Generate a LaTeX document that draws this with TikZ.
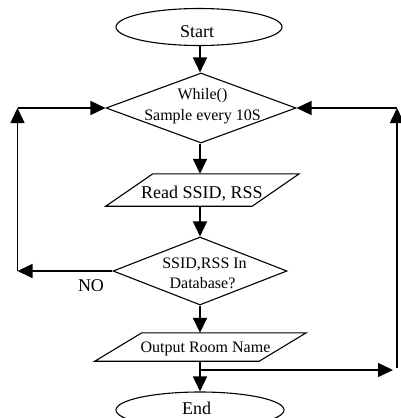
\documentclass[tikz,border=0pt]{standalone}
\usepackage{fontspec}
\setmainfont{Liberation Serif}
\usetikzlibrary{shapes.geometric,arrows.meta,calc}
\begin{document}
\begin{tikzpicture}[x=1pt,y=-1pt,
  outline/.style={draw=black,line width=1.1pt},
  termbox/.style={outline,ellipse,inner sep=0pt,minimum width=166pt,minimum height=37pt},
  decbox/.style={outline,diamond,inner sep=0pt},
  iobox/.style={inner sep=0pt},
  big/.style={anchor=base,inner sep=0pt,font=\fontsize{18}{22}\selectfont},
  small/.style={anchor=base,inner sep=0pt,font=\fontsize{16}{22}\selectfont},
  flow/.style={line width=1.6pt,-{Triangle[length=15pt,width=14pt]}}]
\useasboundingbox (0,0) rectangle (400,418);
% shapes
\node[termbox] (start) at (199,27) {};
\node[decbox,minimum width=190pt,minimum height=70pt] (d1) at (201,108) {};
\node[iobox,minimum width=146pt,minimum height=32pt] (p1) at (202.5,190) {};
\draw[outline] ($(p1.north west)+(23.5,0)$) -- ($(p1.north east)+(23.5,0)$)
  -- ($(p1.south east)+(-23.5,0)$) -- ($(p1.south west)+(-23.5,0)$) -- cycle;
\node[decbox,minimum width=174pt,minimum height=68pt] (d2) at (200,271) {};
\node[iobox,minimum width=164pt,minimum height=28pt] (p2) at (200.5,347) {};
\draw[outline] ($(p2.north west)+(23.5,0)$) -- ($(p2.north east)+(23.5,0)$)
  -- ($(p2.south east)+(-23.5,0)$) -- ($(p2.south west)+(-23.5,0)$) -- cycle;
\node[termbox,minimum width=168pt,minimum height=36pt] (end) at (200,410) {};
% texts
\node[big] (tstart) at (197,37.5) {Start};
\node[small] (tw1) at (202.5,99) {While()};
\node[small] (tw2) at (202.5,120) {Sample every 10S};
\node[big] (tp1) at (202,198) {Read SSID, RSS};
\node[small] (td1) at (204.5,268) {SSID,RSS In};
\node[small] (td2) at (202.5,288.5) {Database?};
\node[small] (tp2) at (205.5,352) {Output Room Name};
\node[big] (tno) at (91,291) {NO};
\node[big] (tend) at (196.5,414) {End};
% helper points
\coordinate (j) at (200,370);
\coordinate (r1) at (393,370);
\coordinate (r2) at (397,368);
\coordinate (r3) at (397,108);
\coordinate (l1) at (17.5,271);
\coordinate (l2) at (17.5,108);
% connectors
\draw[flow] (start.south -| 200,0) -- (d1.north -| 200,0);
\draw[flow] (d1.south -| 200,0) -- (p1.north -| 200,0);
\draw[flow] (p1.south -| 200,0) -- (d2.north);
\draw[flow] (d2.south) -- (p2.north -| 200,0);
\draw[flow] (p2.south -| 200,0) -- (end.north);
\draw[flow] (j) -- (r1);
\draw[flow] (r2) -- (r3);
\draw[flow] (r3) -- (d1.east);
\draw[flow] (d2.west) -- (l1);
\draw[flow] (l1) -- (l2);
\draw[flow] (l2) -- (d1.west);
\end{tikzpicture}
\end{document}
